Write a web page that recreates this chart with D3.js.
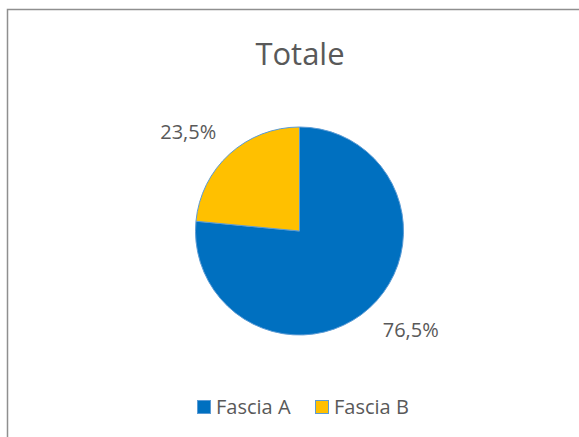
<!DOCTYPE html>
<html><head><meta charset="utf-8">
<script src="https://cdn.jsdelivr.net/npm/d3@7"></script>
<style>body{margin:0;background:#fff}svg{display:block}</style>
</head><body>
<svg id="c" width="579" height="437"></svg>
<script>
const categories = ["Fascia A", "Fascia B"];
const values = [76.5, 23.5];
const labels = ["76,5%", "23,5%"];
const colors = ["#0070C0", "#FFC000"];
const title = "Totale";

const svg = d3.select("#c");
const font = "'Open Sans', sans-serif";
const textColor = "#595959";

// chart frame (cropped at right/bottom)
svg.append("rect").attr("x", 7.5).attr("y", 9.5).attr("width", 620).attr("height", 500)
  .attr("fill", "#fff").attr("stroke", "#8f8f8f").attr("stroke-width", 1.5);

svg.append("text").attr("x", 300).attr("y", 65).attr("text-anchor", "middle")
  .attr("font-family", font).attr("font-size", 31).attr("fill", textColor).text(title);

const cx = 299.5, cy = 231, r = 104;
const pie = d3.pie().sort(null).value(d => d)(values);
const arc = d3.arc().innerRadius(0).outerRadius(r);
const g = svg.append("g").attr("transform", `translate(${cx},${cy})`);
g.selectAll("path").data(pie).join("path")
  .attr("d", arc).attr("fill", (d, i) => colors[i])
  .attr("stroke", "#5b9bd5").attr("stroke-width", 1);

const lr = 149, off = -6 * Math.PI / 180;
g.selectAll("text.lbl").data(pie).join("text").attr("class", "lbl")
  .attr("x", d => lr * Math.sin((d.startAngle + d.endAngle) / 2 + off))
  .attr("y", d => -lr * Math.cos((d.startAngle + d.endAngle) / 2 + off))
  .attr("dy", "0.35em").attr("text-anchor", "middle")
  .attr("font-family", font).attr("font-size", 20).attr("fill", textColor)
  .text((d, i) => labels[i]);

// legend
const legendX = d3.scaleOrdinal().domain(categories).range([197, 315]);
const lg = svg.append("g");
categories.forEach((c, i) => {
  const x = legendX(c);
  lg.append("rect").attr("x", x + 0.5).attr("y", 400.5).attr("width", 13).attr("height", 13)
    .attr("fill", colors[i]).attr("stroke", "#5b9bd5").attr("stroke-width", 1);
  lg.append("text").attr("x", x + 19).attr("y", 414)
    .attr("font-family", font).attr("font-size", 20).attr("fill", textColor).text(c);
});
</script>
</body></html>
